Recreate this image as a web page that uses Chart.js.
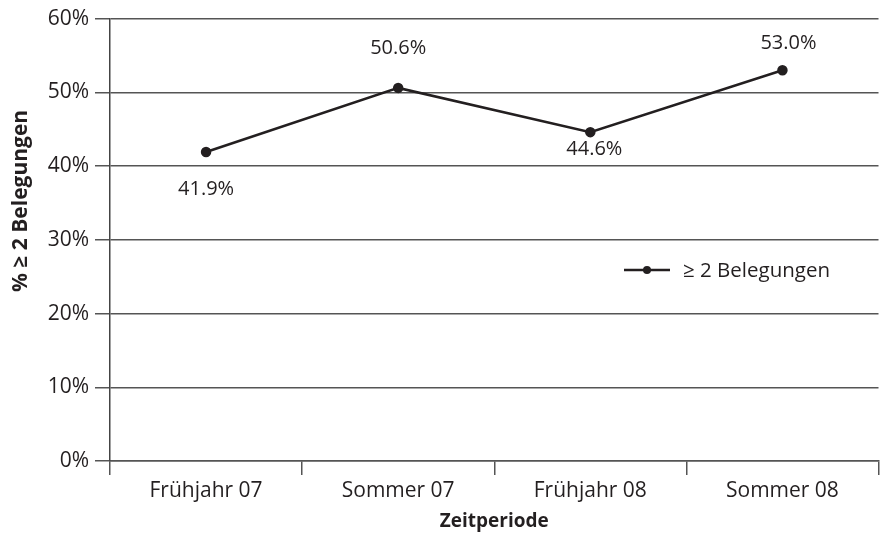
<!DOCTYPE html>
<html>
<head>
<meta charset="utf-8">
<script src="https://cdn.jsdelivr.net/npm/chart.js@4/dist/chart.umd.min.js"></script>
<style>
  html, body { margin: 0; padding: 0; background: #fff; }
  #wrap { width: 885px; height: 545px; }
</style>
</head>
<body>
<div id="wrap"><canvas id="c" width="885" height="545"></canvas></div>
<script>
// Zeitperioden und Anteil mit mindestens zwei Belegungen (%)
const periods = ['Frühjahr 07', 'Sommer 07', 'Frühjahr 08', 'Sommer 08'];
const shareTwoPlus = [41.9, 50.6, 44.6, 53.0];
const yTicks = [0, 10, 20, 30, 40, 50, 60];
const seriesName = '≥ 2 Belegungen';
const yTitle = '% ≥ 2 Belegungen';

const FONT = '"Open Sans", "DejaVu Sans", sans-serif';
const INK = '#231f20';

// Beschriftung der Datenpunkte: oberhalb oder unterhalb des Punktes
const labelOffsets = [37, -40, 17, -27];

const pointLabels = {
  id: 'pointLabels',
  afterDatasetsDraw(chart) {
    const ctx = chart.ctx;
    const meta = chart.getDatasetMeta(0);
    ctx.save();
    ctx.font = '20px ' + FONT;
    ctx.fillStyle = INK;
    ctx.textAlign = 'center';
    ctx.textBaseline = 'middle';
    meta.data.forEach((pt, i) => {
      const v = chart.data.datasets[0].data[i];
      ctx.fillText(v.toFixed(1) + '%', pt.x + (i === 2 ? 4 : (i === 3 ? 6 : 0)), pt.y + labelOffsets[i]);
    });
    ctx.restore();
  }
};

// Legende innerhalb der Zeichenfläche und senkrechter Achsentitel
const innerLegend = {
  id: 'innerLegend',
  afterDraw(chart) {
    const ctx = chart.ctx;
    const x0 = 624, x1 = 670, y = 270;
    ctx.save();
    ctx.strokeStyle = INK;
    ctx.lineWidth = 2.5;
    ctx.beginPath();
    ctx.moveTo(x0, y);
    ctx.lineTo(x1, y);
    ctx.stroke();
    ctx.fillStyle = INK;
    ctx.beginPath();
    ctx.arc((x0 + x1) / 2, y, 4, 0, Math.PI * 2);
    ctx.fill();
    ctx.font = '20.5px ' + FONT;
    ctx.textAlign = 'left';
    ctx.textBaseline = 'middle';
    ctx.fillText(seriesName, 683, y + 1);

    ctx.translate(21, 201);
    ctx.rotate(-Math.PI / 2);
    ctx.font = 'bold 21px ' + FONT;
    ctx.textAlign = 'center';
    ctx.fillText(yTitle, 0, 0);
    ctx.restore();
  }
};

new Chart(document.getElementById('c'), {
  type: 'line',
  data: {
    labels: periods,
    datasets: [{
      label: seriesName,
      data: shareTwoPlus,
      borderColor: INK,
      backgroundColor: INK,
      borderWidth: 2.5,
      pointRadius: 4,
      pointHoverRadius: 4,
      tension: 0
    }]
  },
  options: {
    responsive: false,
    animation: false,
    layout: { padding: { top: 17, right: 5, left: 0, bottom: 0 } },
    plugins: {
      legend: { display: false },
      tooltip: { enabled: false }
    },
    scales: {
      x: {
        offset: true,
        grid: {
          offset: true,
          drawOnChartArea: false,
          drawTicks: true,
          tickLength: 14,
          color: '#555',
          lineWidth: 1.5
        },
        border: { display: true, color: '#555', width: 1.5 },
        ticks: {
          font: { family: FONT, size: 21 },
          color: INK,
          padding: 3,
          maxRotation: 0
        },
        title: {
          display: true,
          text: 'Zeitperiode',
          font: { family: FONT, size: 19, weight: 'bold' },
          color: INK,
          padding: { top: 10, bottom: 12 }
        },
        afterFit(scale) { scale.height = 84; }
      },
      y: {
        min: 0,
        max: 60,
        afterBuildTicks(scale) {
          scale.ticks = yTicks.map(v => ({ value: v }));
        },
        grid: {
          color: '#555',
          lineWidth: 1.5,
          drawTicks: true,
          tickLength: 15
        },
        border: { display: true, color: '#444', width: 1.5 },
        ticks: {
          font: { family: FONT, size: 21 },
          color: INK,
          padding: 6,
          callback: v => v + '%'
        },
        title: { display: false },
        afterFit(scale) { scale.width = 110; }
      }
    }
  },
  plugins: [pointLabels, innerLegend]
});
</script>
</body>
</html>
